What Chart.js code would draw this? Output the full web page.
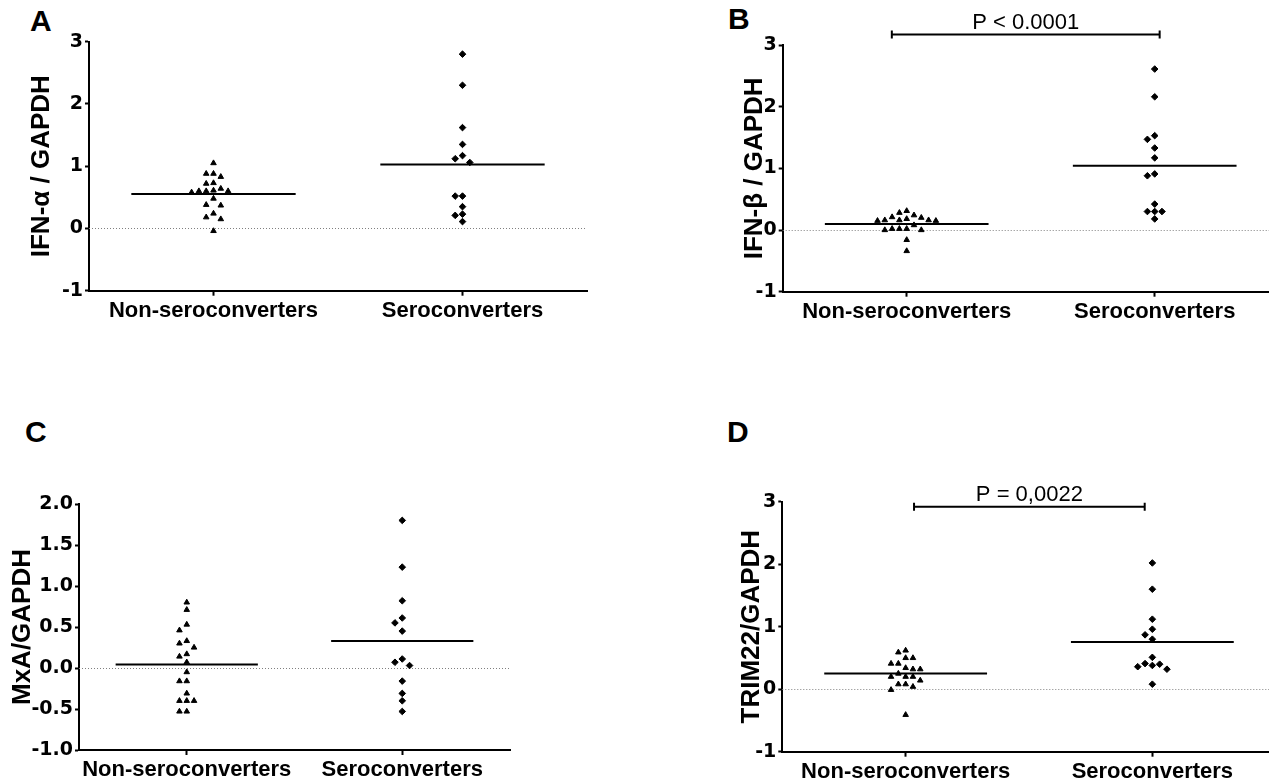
<!DOCTYPE html>
<html>
<head>
<meta charset="utf-8">
<script src="https://cdn.jsdelivr.net/npm/chart.js@4.4.0/dist/chart.umd.min.js"></script>
<style>
  html, body { margin: 0; padding: 0; background: #fff; width: 1269px; height: 782px; overflow: hidden; }
  body { position: relative; font-family: 'Liberation Sans', Arial, sans-serif; }
  .panel { position: absolute; }
  .tag { position: absolute; font: bold 30px 'Liberation Sans', Arial, sans-serif; line-height: 30px; color: #000; }
</style>
</head>
<body>
<div class="tag" style="left:30px;top:6px">A</div>
<div class="tag" style="left:728px;top:4px">B</div>
<div class="tag" style="left:25px;top:417px">C</div>
<div class="tag" style="left:727px;top:417px">D</div>

<script>
const groups = ['Non-seroconverters', 'Seroconverters'];

// IFN-alpha / GAPDH
const ifnaNon = [1.05, 0.88, 0.83, 0.88, 0.72, 0.73, 0.64, 0.60, 0.60, 0.58, 0.60, 0.61, 0.48, 0.37, 0.38, 0.24, 0.18, 0.15, -0.04];
const ifnaSero = [2.80, 2.30, 1.62, 1.35, 1.12, 1.17, 1.06, 0.52, 0.52, 0.35, 0.23, 0.21, 0.11];

// IFN-beta / GAPDH
const ifnbNon = [0.21, 0.18, 0.16, 0.15, 0.28, 0.31, 0.15, 0.16, 0.16, 0.20, 0.24, 0.02, 0.02, 0.00, 0.00, 0.02, 0.08, -0.16, -0.34];
const ifnbSero = [2.61, 2.16, 1.53, 1.47, 1.33, 1.17, 0.88, 0.91, 0.42, 0.30, 0.30, 0.30, 0.18];

// MxA / GAPDH
const mxaNon = [0.80, 0.71, 0.53, 0.46, 0.33, 0.30, 0.25, 0.17, 0.14, 0.07, -0.05, -0.16, -0.16, -0.31, -0.40, -0.40, -0.40, -0.53, -0.53];
const mxaSero = [1.80, 1.23, 0.82, 0.61, 0.55, 0.45, 0.11, 0.07, 0.03, -0.16, -0.31, -0.40, -0.53];

// TRIM22 / GAPDH
const trimNon = [0.59, 0.62, 0.50, 0.50, 0.41, 0.41, 0.32, 0.32, 0.34, 0.25, 0.20, 0.20, 0.20, 0.14, 0.08, 0.08, 0.04, -0.01, -0.41];
const trimSero = [2.02, 1.60, 1.12, 0.96, 0.87, 0.80, 0.51, 0.40, 0.36, 0.32, 0.38, 0.41, 0.08];

// y ticks
const ticksWhole = [-1, 0, 1, 2, 3];
const labelsWhole = ['-1', '0', '1', '2', '3'];
const ticksHalf = [-1, -0.5, 0, 0.5, 1, 1.5, 2];
const labelsHalf = ['-1.0', '-0.5', '0.0', '0.5', '1.0', '1.5', '2.0'];

// p-value labels
const pIfnb = 'P < 0.0001';
const pTrim = 'P = 0,0022';

Chart.defaults.color = '#000';
Chart.defaults.font.family = "'Liberation Sans', Arial, sans-serif";

const panels = [
  { title: 'IFN-α / GAPDH', non: ifnaNon, sero: ifnaSero, ticks: ticksWhole, labels: labelsWhole,
    box: [0, 0, 634, 391], area: [89, 41.7, 587, 290.7], titleX: 41.7 },
  { title: 'IFN-β / GAPDH', non: ifnbNon, sero: ifnbSero, ticks: ticksWhole, labels: labelsWhole,
    box: [634, 0, 660, 391], area: [782.7, 45, 1278.7, 291.7], titleX: 755,
    bracket: { from: -0.06, to: 1.02, y: 3.17, text: pIfnb } },
  { title: 'MxA/GAPDH', non: mxaNon, sero: mxaSero, ticks: ticksHalf, labels: labelsHalf,
    box: [0, 391, 634, 391], area: [79, 504, 510, 750], titleX: 23.3 },
  { title: 'TRIM22/GAPDH', non: trimNon, sero: trimSero, ticks: ticksWhole, labels: labelsWhole,
    box: [634, 391, 660, 391], area: [782.3, 501.7, 1275.7, 751.7], titleX: 752,
    bracket: { from: 0.034, to: 0.969, y: 2.92, text: pTrim } }
];

// spread points of similar value side by side, like a column scatter
function swarm(values, center, stepX, gapY) {
  const order = values.map((v, i) => i).sort((a, b) => values[b] - values[a]);
  const placed = [];
  const pts = [];
  order.forEach(i => {
    const v = values[i];
    for (let k = 0; ; k++) {
      const slot = k === 0 ? 0 : (k % 2 ? -Math.ceil(k / 2) : k / 2);
      if (!placed.some(p => p.slot === slot && Math.abs(p.v - v) < gapY)) {
        placed.push({ slot, v });
        pts.push({ x: center + slot * stepX, y: v });
        break;
      }
    }
  });
  return pts;
}

const mean = arr => arr.reduce((s, v) => s + v, 0) / arr.length;

const decor = {
  id: 'decor',
  beforeDatasetsDraw(chart) {
    const { ctx, chartArea, scales: { y } } = chart;
    const y0 = Math.round(y.getPixelForValue(0)) + 0.5;
    ctx.save();
    ctx.strokeStyle = '#808080';
    ctx.lineWidth = 1;
    ctx.setLineDash([1, 2]);
    ctx.beginPath();
    ctx.moveTo(chartArea.left, y0);
    ctx.lineTo(chartArea.right, y0);
    ctx.stroke();
    ctx.restore();
  },
  afterDraw(chart, args, opts) {
    const b = opts.bracket;
    if (!b) return;
    const { ctx, scales: { x, y } } = chart;
    const x1 = x.getPixelForValue(b.from);
    const x2 = x.getPixelForValue(b.to);
    const yy = y.getPixelForValue(b.y);
    ctx.save();
    ctx.strokeStyle = '#000';
    ctx.lineWidth = 2;
    ctx.beginPath();
    ctx.moveTo(x1, yy); ctx.lineTo(x2, yy);
    ctx.moveTo(x1, yy - 4); ctx.lineTo(x1, yy + 4);
    ctx.moveTo(x2, yy - 4); ctx.lineTo(x2, yy + 4);
    ctx.stroke();
    ctx.fillStyle = '#000';
    ctx.font = "22px 'Liberation Sans', Arial, sans-serif";
    ctx.textAlign = 'center';
    ctx.textBaseline = 'alphabetic';
    ctx.fillText(b.text, (x1 + x2) / 2, yy - 6);
    ctx.restore();
  }
};

panels.forEach((p, idx) => {
  const [bl, bt, bw, bh] = p.box;
  const [al, at, ar, ab] = p.area;
  const div = document.createElement('div');
  div.className = 'panel';
  div.style.cssText = `left:${bl}px;top:${bt}px;width:${bw}px;height:${bh}px`;
  const canvas = document.createElement('canvas');
  canvas.width = bw; canvas.height = bh;
  div.appendChild(canvas);
  document.body.appendChild(div);

  const yMin = p.ticks[0], yMax = p.ticks[p.ticks.length - 1];
  const pxPerCat = (ar - al) / 2;
  const pxPerUnit = (ab - at) / (yMax - yMin);
  const stepX = 7.3 / pxPerCat;
  const gapY = 7 / pxPerUnit;
  const xAxisH = 30;

  const meanLine = (i, arr) => [{ x: i - 0.33, y: mean(arr) }, { x: i + 0.33, y: mean(arr) }];

  new Chart(canvas, {
    type: 'scatter',
    data: {
      datasets: [
        { data: meanLine(0, p.non), showLine: true, borderColor: '#000', borderWidth: 2, pointRadius: 0 },
        { data: meanLine(1, p.sero), showLine: true, borderColor: '#000', borderWidth: 2, pointRadius: 0 },
        { data: swarm(p.non, 0, stepX, gapY), pointStyle: 'triangle', pointRadius: 3.2,
          backgroundColor: '#000', borderColor: '#000', borderWidth: 1 },
        { data: swarm(p.sero, 1, stepX, gapY), pointStyle: 'rectRot', pointRadius: 3.3,
          backgroundColor: '#000', borderColor: '#000', borderWidth: 1 }
      ]
    },
    options: {
      responsive: false,
      animation: false,
      devicePixelRatio: 1,
      layout: { padding: { left: 0, top: at - bt, right: bl + bw - ar, bottom: bt + bh - ab - xAxisH } },
      plugins: { legend: { display: false }, tooltip: { enabled: false }, decor: { bracket: p.bracket } },
      scales: {
        x: {
          type: 'linear', min: -0.5, max: 1.5,
          afterBuildTicks: s => { s.ticks = [{ value: 0 }, { value: 1 }]; },
          afterFit: s => { s.height = xAxisH; },
          ticks: { callback: v => groups[v], autoSkip: false, maxRotation: 0, padding: 2,
                   font: { size: 22, weight: 'bold' } },
          grid: { drawOnChartArea: false, tickLength: 5, tickColor: '#000', tickWidth: 2 },
          border: { color: '#000', width: 2 }
        },
        y: {
          min: yMin, max: yMax,
          afterBuildTicks: s => { s.ticks = p.ticks.map(v => ({ value: v })); },
          afterFit: s => { s.width = al - bl; },
          ticks: { callback: (v, i) => p.labels[i], padding: 2,
                   font: { family: "'DejaVu Sans', sans-serif", size: 19, weight: 'bold' } },
          grid: { drawOnChartArea: false, tickLength: 4, tickColor: '#000', tickWidth: 2 },
          border: { color: '#000', width: 2 },
          title: { display: true, text: p.title, font: { size: 26, weight: 'bold' },
                   padding: { top: p.titleX - bl - 15.6, bottom: 0 } }
        }
      }
    },
    plugins: [decor]
  });
});
</script>
</body>
</html>
